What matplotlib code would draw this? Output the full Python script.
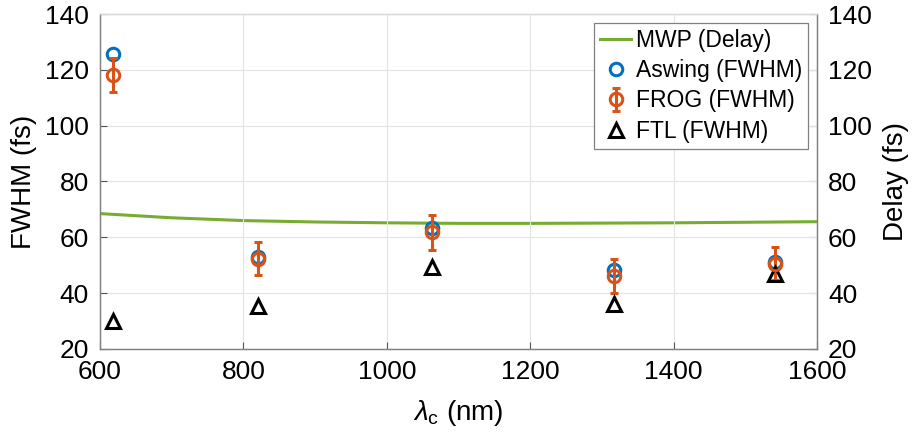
import matplotlib
matplotlib.use("Agg")
import matplotlib.pyplot as plt
import numpy as np

plt.rcParams['font.family'] = ['Liberation Sans', 'DejaVu Sans']
plt.rcParams['mathtext.fontset'] = 'custom'
plt.rcParams['mathtext.it'] = 'Liberation Sans:italic'
plt.rcParams['mathtext.rm'] = 'Liberation Sans'

# Central wavelengths (nm)
wavelengths = [618, 821, 1063, 1317, 1541]
# Pulse durations (fs)
aswing_fwhm = [125.6, 53.0, 63.4, 48.2, 51.2]
frog_fwhm = [118.1, 52.4, 61.8, 46.3, 50.6]
frog_err = [6.0, 6.0, 6.2, 6.1, 6.0]
ftl_fwhm = [30.1, 35.3, 49.4, 36.1, 47.0]
# MWP delay curve
mwp_wl = [600, 700, 800, 900, 1000, 1100, 1200, 1300, 1400, 1500, 1600]
mwp_delay = [68.5, 67.0, 66.0, 65.5, 65.2, 65.0, 65.0, 65.1, 65.2, 65.4, 65.6]

blue = '#0072BD'
orange = '#D95319'
green = '#77AC30'

fig = plt.figure(figsize=(9.19, 4.46), dpi=100)
ax = fig.add_axes([0.1088, 0.2175, 0.7802, 0.7511])
ax2 = ax.twinx()

l_mwp, = ax2.plot(mwp_wl, mwp_delay, color=green, lw=2.2, label='MWP (Delay)')
l_asw, = ax.plot(wavelengths, aswing_fwhm, 'o', ms=9, mfc='none', mec=blue, mew=2.2,
                 ls='none', label='Aswing (FWHM)')
l_frog = ax.errorbar(wavelengths, frog_fwhm, yerr=frog_err, fmt='o', ms=9, mfc='none',
                     mec=orange, mew=2.2, ecolor=orange, elinewidth=2.2, capsize=2.6,
                     capthick=2.2, label='FROG (FWHM)')
l_ftl, = ax.plot(wavelengths, ftl_fwhm, '^', ms=10.5, mfc='none', mec='black', mew=2.2,
                 ls='none', label='FTL (FWHM)')

for a in (ax, ax2):
    a.set_xlim(600, 1600)
    a.set_ylim(20, 140)
    a.set_yticks(np.arange(20, 141, 20))
    a.tick_params(direction='in', length=5, width=0.8, colors='#555555', labelsize=19,
                  labelcolor='black', pad=8)
    for s in a.spines.values():
        s.set_color('#808080')
        s.set_linewidth(0.9)
    a.spines['top'].set_color('#d8d8d8')
ax.set_xticks(np.arange(600, 1601, 200))
ax.grid(True, color='#e3e3e3', lw=0.8)
ax.set_axisbelow(True)
ax.set_zorder(ax2.get_zorder() + 1)
ax.patch.set_visible(False)

ax.set_xlabel(r'$\lambda_{\mathrm{c}}$ (nm)', fontsize=20, labelpad=10)
ax.set_ylabel('FWHM (fs)', fontsize=20, labelpad=6)
ax2.set_ylabel('Delay (fs)', fontsize=20, labelpad=8)

leg = ax.legend([l_mwp, l_asw, l_frog, l_ftl],
                ['MWP (Delay)', 'Aswing (FWHM)', 'FROG (FWHM)', 'FTL (FWHM)'],
                loc='upper right', bbox_to_anchor=(0.987, 0.973), fontsize=16.5,
                frameon=True, fancybox=False, edgecolor='#808080', framealpha=1,
                handlelength=1.35, handletextpad=0.2, borderpad=0.25, labelspacing=0.32,
                borderaxespad=0)
leg.get_frame().set_linewidth(0.9)

fig.savefig('out.png', dpi=100)
